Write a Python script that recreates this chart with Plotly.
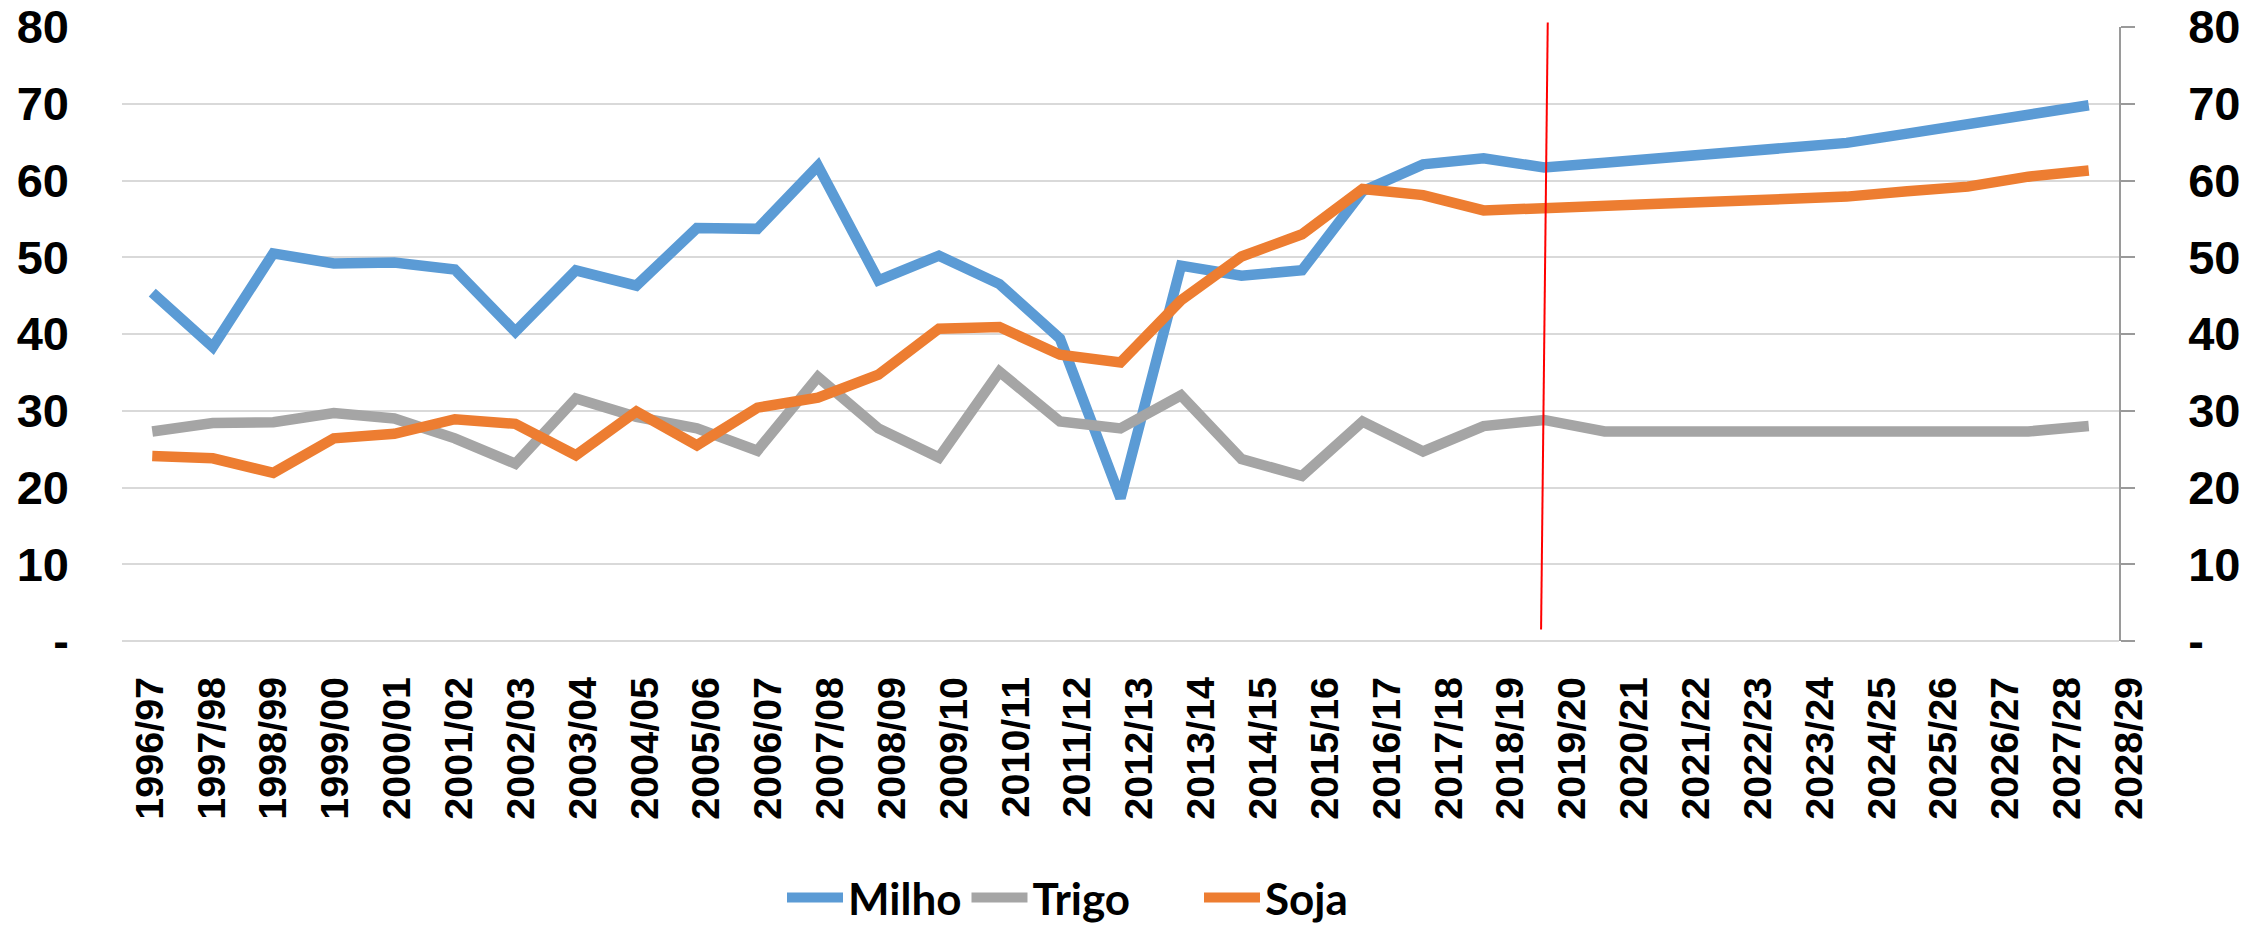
import plotly.graph_objects as go

seasons = ["1996/97", "1997/98", "1998/99", "1999/00", "2000/01", "2001/02", "2002/03",
           "2003/04", "2004/05", "2005/06", "2006/07", "2007/08", "2008/09", "2009/10",
           "2010/11", "2011/12", "2012/13", "2013/14", "2014/15", "2015/16", "2016/17",
           "2017/18", "2018/19", "2019/20", "2020/21", "2021/22", "2022/23", "2023/24",
           "2024/25", "2025/26", "2026/27", "2027/28", "2028/29"]

milho = [45.4, 38.3, 50.5, 49.2, 49.3, 48.4, 40.3, 48.3, 46.3, 53.8, 53.7, 61.9, 47.0,
         50.2, 46.5, 39.4, 18.6, 48.9, 47.6, 48.3, 58.6, 62.1, 62.9, 61.7, 62.3, 62.9,
         63.6, 64.2, 64.9, 66.1, 67.3, 68.6, 69.8]
trigo = [27.3, 28.4, 28.5, 29.7, 29.0, 26.4, 23.1, 31.6, 29.2, 27.7, 24.8, 34.4, 27.7,
         23.9, 35.1, 28.6, 27.7, 32.0, 23.7, 21.5, 28.6, 24.7, 28.0, 28.8, 27.3, 27.3,
         27.3, 27.3, 27.3, 27.3, 27.3, 27.3, 28.0]
soja = [24.1, 23.8, 21.9, 26.4, 27.0, 28.9, 28.3, 24.2, 29.9, 25.5, 30.4, 31.7, 34.7,
        40.7, 40.9, 37.3, 36.3, 44.4, 50.1, 53.0, 58.9, 58.1, 56.1, 56.5, 56.8, 57.0,
        57.3, 57.6, 57.9, 58.6, 59.2, 60.5, 61.3]

y_ticks = [0, 10, 20, 30, 40, 50, 60, 70, 80]
y_ticktext = ["-", "10", "20", "30", "40", "50", "60", "70", "80"]

# red divider (projection start), in axis units
divider_x = (22.95, 23.06)
divider_y = (1.5, 80.6)

series = [("Milho", milho, "#5B9BD5", "legend"),
          ("Trigo", trigo, "#A5A5A5", "legend"),
          ("Soja", soja, "#ED7D31", "legend2")]

W, H = 2255, 929
ML, MR, MT, MB = 100, 80, 27, 288
PW = W - ML - MR

def px2dom(a, b):
    return [(a - ML) / PW, (b - ML) / PW]

tick_font = dict(family="Liberation Sans, Arial, sans-serif", size=47, color="black", weight="bold")
xlab_font = dict(family="Liberation Sans, Arial, sans-serif", size=39.5, color="black", weight="bold")
leg_font = dict(family="Lato, Open Sans, sans-serif", size=44, color="black", weight="bold")

fig = go.Figure()
for name, vals, col, lg in series:
    fig.add_trace(go.Scatter(x=seasons[:len(vals)], y=vals, name=name, mode="lines",
                             line=dict(color=col, width=10.5), legend=lg))

# helper traces carrying the right-hand axis and the category label axis
fig.add_trace(go.Scatter(x=seasons[:1], y=[None], yaxis="y2", showlegend=False,
                         hoverinfo="skip", mode="lines"))
fig.add_trace(go.Scatter(x=seasons, y=[None] * len(seasons), xaxis="x2", yaxis="y3",
                         showlegend=False, hoverinfo="skip", mode="lines"))

fig.add_shape(type="line", xref="x", yref="paper",
              x0=divider_x[0], x1=divider_x[1],
              y0=divider_y[0] / 80, y1=divider_y[1] / 80,
              line=dict(color="#FF0000", width=2))

fig.update_layout(
    width=W, height=H,
    margin=dict(l=ML, r=MR, t=MT, b=MB, autoexpand=False),
    paper_bgcolor="white", plot_bgcolor="rgba(0,0,0,0)",
    xaxis=dict(type="category", categoryorder="array", categoryarray=seasons,
               range=[-0.5, len(seasons) - 0.5], domain=px2dom(122, 2119),
               showticklabels=False, showgrid=False, zeroline=False, showline=False,
               ticks=""),
    xaxis2=dict(type="category", categoryorder="array", categoryarray=seasons,
                range=[-0.5, len(seasons) - 0.5], domain=px2dom(119, 2160),
                anchor="y3", tickangle=-90, tickfont=xlab_font, ticks="",
                showgrid=False, zeroline=False, showline=False,
                tickmode="array", tickvals=seasons, ticktext=seasons,
                ticklabelstandoff=27),
    yaxis=dict(range=[0, 80], tickvals=y_ticks, ticktext=y_ticktext, tickfont=tick_font,
               showgrid=True, gridcolor="#D9D9D9", gridwidth=2,
               zeroline=True, zerolinecolor="#D9D9D9", zerolinewidth=2,
               showline=False, ticks="", ticklabelstandoff=52),
    yaxis2=dict(range=[0, 80], tickvals=y_ticks, ticktext=y_ticktext, tickfont=tick_font,
                overlaying="y", side="right", anchor="x", showgrid=False, zeroline=False,
                showline=True, linecolor="#9A9A9A", linewidth=1.5,
                ticks="outside", ticklen=14, tickcolor="#9A9A9A", tickwidth=1.5,
                ticklabelstandoff=44),
    yaxis3=dict(range=[0, 80], domain=[0, 1], anchor="x2", visible=False),
    legend=dict(orientation="h", xref="container", yref="container",
                x=782 / W, y=(H - 898) / H, xanchor="left", yanchor="middle",
                font=leg_font, itemwidth=56, bgcolor="rgba(0,0,0,0)"),
    legend2=dict(orientation="h", xref="container", yref="container",
                 x=1199 / W, y=(H - 898) / H, xanchor="left", yanchor="middle",
                 font=leg_font, itemwidth=56, bgcolor="rgba(0,0,0,0)"),
    showlegend=True,
)

fig.write_html("out.html", config={"displayModeBar": False},
               post_script="document.body.style.margin='0';document.body.style.overflow='hidden';")
